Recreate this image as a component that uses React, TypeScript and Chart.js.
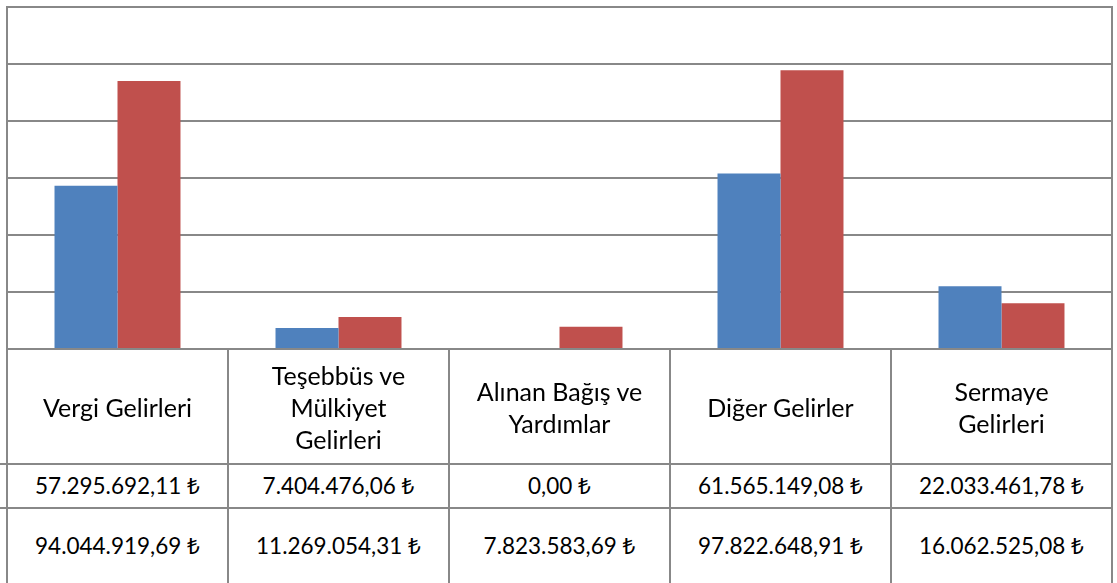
import React, { useEffect, useRef } from "react";
import { Chart, registerables } from "chart.js";

Chart.register(...registerables);

const categories = [
  "Vergi Gelirleri",
  "Teşebbüs ve\nMülkiyet\nGelirleri",
  "Alınan Bağış ve\nYardımlar",
  "Diğer Gelirler",
  "Sermaye\nGelirleri",
];
const seriesNames = ["Seri 1", "Seri 2"];
const series1Values = [57295692.11, 7404476.06, 0.0, 61565149.08, 22033461.78];
const series2Values = [94044919.69, 11269054.31, 7823583.69, 97822648.91, 16062525.08];
const currencySymbol = "₺";
const yMin = 0;
const yMax = 120000000;
const yStep = 20000000;

const BLUE = "#4F81BD";
const RED = "#C0504D";
const LINE = "#888888";

function fmtNum(v: number): string {
  const [i, d] = v.toFixed(2).split(".");
  return i.replace(/\B(?=(\d{3})+(?!\d))/g, ".") + "," + d;
}

const W = 1117;
const H = 583;
const PLOT_LEFT = 7;
const PLOT_RIGHT = 1112;
const PLOT_TOP = 7;
const PLOT_BOTTOM = 349;
const CANVAS_H = 351;
const COL_W = (PLOT_RIGHT - PLOT_LEFT) / categories.length;

export default function App() {
  const ref = useRef<HTMLCanvasElement>(null);
  useEffect(() => {
    const chart = new Chart(ref.current as HTMLCanvasElement, {
      type: "bar",
      data: {
        labels: categories,
        datasets: [
          {
            label: seriesNames[0],
            data: series1Values,
            backgroundColor: BLUE,
            borderWidth: 0,
            categoryPercentage: 0.57,
            barPercentage: 1,
          },
          {
            label: seriesNames[1],
            data: series2Values,
            backgroundColor: RED,
            borderWidth: 0,
            categoryPercentage: 0.57,
            barPercentage: 1,
          },
        ],
      },
      options: {
        animation: false,
        responsive: true,
        maintainAspectRatio: false,
        layout: {
          padding: {
            left: PLOT_LEFT,
            right: W - PLOT_RIGHT,
            top: PLOT_TOP,
            bottom: CANVAS_H - PLOT_BOTTOM,
          },
        },
        plugins: {
          legend: { display: false },
          tooltip: { enabled: false },
          title: { display: false },
        },
        scales: {
          x: {
            display: false,
          },
          y: {
            display: true,
            min: yMin,
            max: yMax,
            ticks: { display: false, stepSize: yStep },
            grid: { color: LINE, lineWidth: 2, drawTicks: false },
            border: { display: false },
          },
        },
      },
    });
    return () => chart.destroy();
  }, []);

  const lines: React.ReactNode[] = [];
  [463, 507].forEach((y, k) =>
    lines.push(
      <div
        key={"h" + k}
        style={{ position: "absolute", left: 0, top: y, width: PLOT_RIGHT + 1, height: 2, background: LINE }}
      />
    )
  );
  for (let i = 0; i <= categories.length; i++) {
    const x = Math.round(PLOT_LEFT + i * COL_W);
    const outer = i === 0 || i === categories.length;
    const top = outer ? PLOT_TOP - 1 : PLOT_BOTTOM;
    lines.push(
      <div
        key={"v" + i}
        style={{ position: "absolute", left: x - 1, top, width: 2, height: H - top, background: LINE }}
      />
    );
  }

  const cellStyle = (x: number, top: number, h: number, fs: number): React.CSSProperties => ({
    position: "absolute",
    left: x,
    top,
    width: COL_W,
    height: h,
    display: "flex",
    alignItems: "center",
    justifyContent: "center",
    textAlign: "center",
    whiteSpace: "pre-line",
    lineHeight: "32px",
    fontSize: fs,
    color: "#000",
  });

  const numCell = (v: number) => (
    <span>
      {fmtNum(v)}{" "}
      <span style={{ fontFamily: "'Noto Sans', 'DejaVu Sans', sans-serif" }}>{currencySymbol}</span>
    </span>
  );

  return (
    <div
      style={{
        position: "absolute",
        left: 0,
        top: 0,
        width: W,
        height: H,
        overflow: "hidden",
        background: "#fff",
        fontFamily: "Lato, 'Noto Sans', sans-serif",
      }}
    >
      <div style={{ position: "absolute", left: 0, top: 0, width: W, height: CANVAS_H }}>
        <canvas ref={ref} style={{ display: "block" }} />
      </div>
      {categories.map((c, i) => (
        <div key={"c" + i} style={cellStyle(PLOT_LEFT + i * COL_W, 350, 113, 25)}>
          {c}
        </div>
      ))}
      {series1Values.map((v, i) => (
        <div key={"a" + i} style={cellStyle(PLOT_LEFT + i * COL_W, 465, 42, 22.5)}>
          {numCell(v)}
        </div>
      ))}
      {series2Values.map((v, i) => (
        <div key={"b" + i} style={cellStyle(PLOT_LEFT + i * COL_W, 509, 74, 22.5)}>
          {numCell(v)}
        </div>
      ))}
      {lines}
    </div>
  );
}
